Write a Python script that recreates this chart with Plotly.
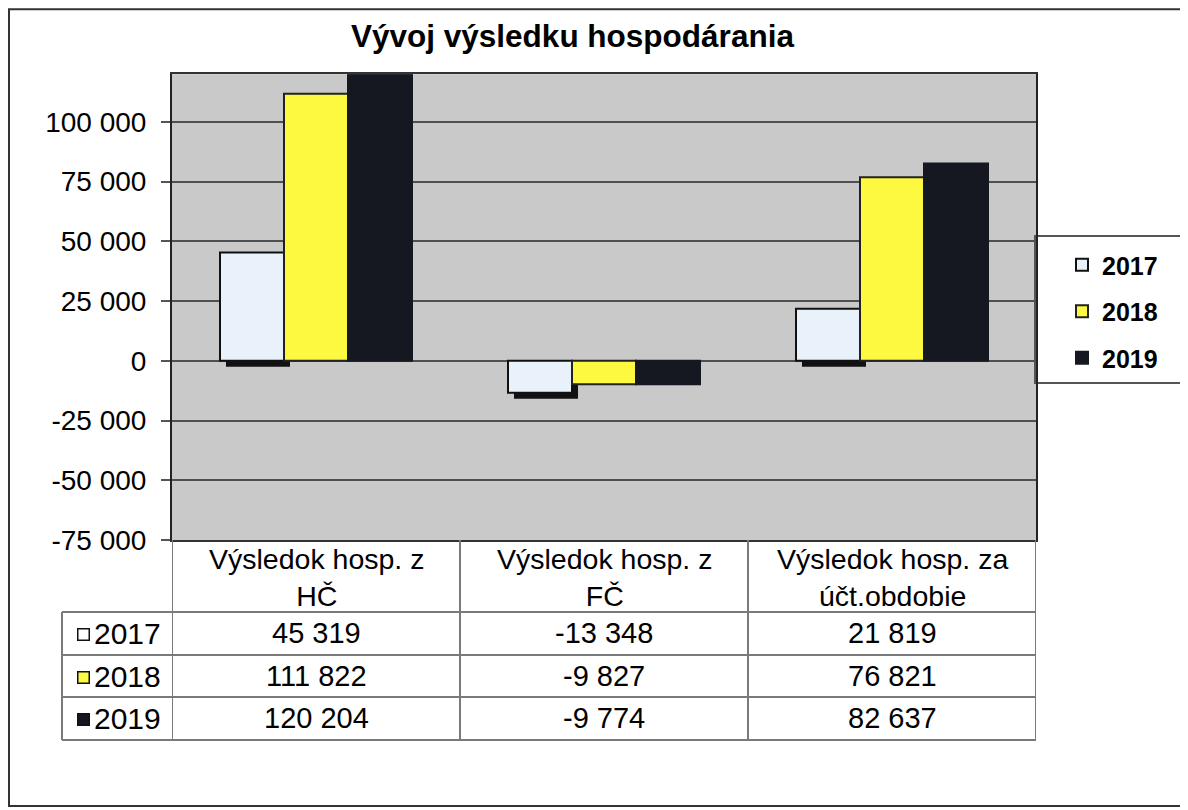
import plotly.graph_objects as go

# ---------------- data ----------------
categories = ["Výsledok hosp. z<br>HČ", "Výsledok hosp. z<br>FČ", "Výsledok hosp. za<br>účt.obdobie"]
years = ["2017", "2018", "2019"]
values_2017 = [45319, -13348, 21819]
values_2018 = [111822, -9827, 76821]
values_2019 = [120204, -9774, 82637]
y_tick_vals = [100000, 75000, 50000, 25000, 0, -25000, -50000, -75000]
y_tick_text = ["100 000", "75 000", "50 000", "25 000", "0", "-25 000", "-50 000", "-75 000"]

series = [values_2017, values_2018, values_2019]
fills = ["#e9f2fb", "#fdf940", "#151820"]
lines = ["#111111", "#222222", "#151820"]

# page has an 8px body margin and the capture is slightly compressed vertically;
# work in screen pixels and convert
OFF = 8
KY = 826.0 / 810.0
W, H = 1180, 818
def px(x):
    return (x - OFF) / W
def py(y):
    return 1 - (y * KY - OFF) / H

FONT = "Arial, Liberation Sans, sans-serif"
xs = list(range(len(categories)))
bw = 64 / 288.0
offsets = [-1.5 * bw, -0.5 * bw, 0.5 * bw]

fig = go.Figure()

# shadow of the 2017 bars (Excel 3D-ish effect)
fig.add_trace(go.Bar(
    x=xs, y=values_2017, base=[-2500] * len(xs), width=bw, offset=offsets[0] + 6 / 288.0,
    marker=dict(color="#111111", line=dict(width=0)), showlegend=False, hoverinfo="skip"))

for i, (yr, vals) in enumerate(zip(years, series)):
    fig.add_trace(go.Bar(
        x=xs, y=vals, name=yr, width=bw, offset=offsets[i],
        marker=dict(color=fills[i], line=dict(color=lines[i], width=2)),
        legendgroup=yr))

# ---------------- table ----------------
shapes = []
grid = dict(color="#7a7a7a", width=2)
for yline in [612, 655, 697, 740]:
    shapes.append(dict(type="line", xref="paper", yref="paper", x0=px(62), x1=px(1036),
                       y0=py(yline), y1=py(yline), line=grid))
for xb in [-0.5, 0.5, 1.5, 2.5]:
    shapes.append(dict(type="line", xref="x", yref="paper", x0=xb, x1=xb,
                       y0=py(540), y1=py(740), line=grid))
shapes.append(dict(type="line", xref="paper", yref="paper", x0=px(62), x1=px(62),
                   y0=py(612), y1=py(740), line=grid))
# legend box
shapes.append(dict(type="rect", xref="paper", yref="paper", x0=px(1035), x1=px(1200),
                   y0=py(383), y1=py(236), line=dict(color="#555555", width=2),
                   fillcolor="white", layer="below"))
# outer border
shapes.append(dict(type="rect", xref="paper", yref="paper", x0=px(9), x1=px(1200),
                   y0=py(806), y1=py(9), line=dict(color="#333333", width=2)))

annotations = []
annotations.append(dict(text="<b>Vývoj výsledku hospodárania</b>", xref="paper", yref="paper",
                        x=px(572), y=py(36), xanchor="center", yanchor="middle",
                        showarrow=False, font=dict(family=FONT, size=31.5, color="black")))
for i, c in enumerate(categories):
    annotations.append(dict(text=c, xref="x", yref="paper", x=i, y=py(577),
                            xanchor="center", yanchor="middle", showarrow=False,
                            font=dict(family=FONT, size=28.5, color="black")))
row_y = [633, 676, 718]
for r, (yr, vals) in enumerate(zip(years, series)):
    annotations.append(dict(text=yr, xref="paper", yref="paper", x=px(163), y=py(row_y[r]),
                            xanchor="right", yanchor="middle", showarrow=False,
                            font=dict(family=FONT, size=30, color="black")))
    annotations.append(dict(text=" ", xref="paper", yref="paper", x=px(83), y=py(row_y[r] + 1),
                            xanchor="center", yanchor="middle", showarrow=False,
                            width=10, height=10, bgcolor=fills[r] if r else "white",
                            bordercolor="#111111", borderwidth=1.5, borderpad=0,
                            font=dict(size=4)))
    for i, v in enumerate(vals):
        annotations.append(dict(text=f"{v:,}".replace(",", " "), xref="x", yref="paper",
                                x=i, y=py(row_y[r]), xanchor="center", yanchor="middle",
                                showarrow=False, font=dict(family=FONT, size=29, color="black")))

fig.update_layout(
    width=W, height=H,
    margin=dict(l=0, r=0, t=0, b=0),
    paper_bgcolor="white",
    plot_bgcolor="#c9c9c9",
    barmode="overlay",
    showlegend=True,
    legend=dict(x=px(1062), y=py(242), xanchor="left", yanchor="top",
                bgcolor="rgba(0,0,0,0)", borderwidth=0, itemwidth=30,
                tracegroupgap=11,
                font=dict(family=FONT, size=25, color="black", weight="bold"),
                itemclick=False, itemdoubleclick=False),
    xaxis=dict(domain=[px(172), px(1036)], range=[-0.5, 2.5], showticklabels=False,
               showgrid=False, zeroline=False, showline=True, mirror=True,
               linecolor="#333333", linewidth=2, ticks="", fixedrange=True),
    yaxis=dict(domain=[py(540), py(74)], range=[-75000, 120000],
               tickvals=y_tick_vals, ticktext=y_tick_text, ticks="outside", ticklen=9,
               tickcolor="#555555", tickwidth=1.5, ticklabelstandoff=9,
               showgrid=True, gridcolor="#4f4f4f", gridwidth=1.5,
               zeroline=True, zerolinecolor="#4f4f4f", zerolinewidth=1.5,
               showline=True, mirror=True, linecolor="#222222", linewidth=2,
               tickfont=dict(family=FONT, size=28, color="black"), fixedrange=True),
    shapes=shapes,
    annotations=annotations,
    font=dict(family=FONT),
)

fig.write_html("out.html")
